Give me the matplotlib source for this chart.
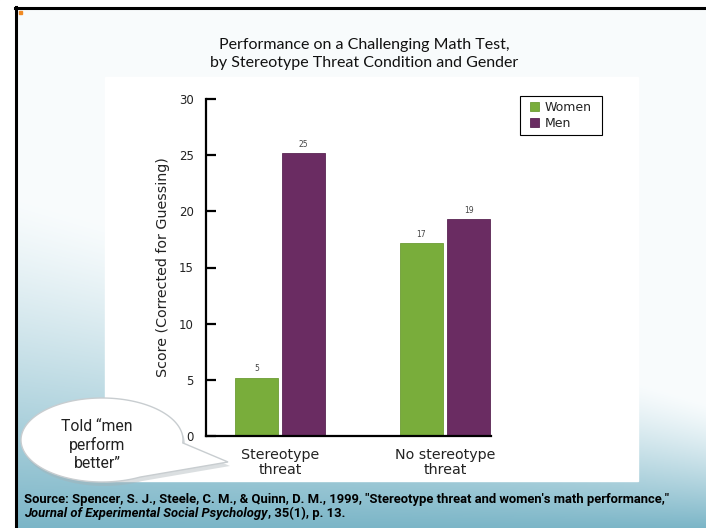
import numpy as np
import matplotlib
matplotlib.use('Agg')
import matplotlib.pyplot as plt
from matplotlib.patches import Rectangle, Polygon
from matplotlib.lines import Line2D

## Data
conditions = ['Stereotype\nthreat', 'No stereotype\nthreat']
women = [5.2, 17.2]
men = [25.2, 19.3]
series_names = ['Women', 'Men']
y_ticks = [0, 5, 10, 15, 20, 25, 30]

title = 'Performance on a Challenging Math Test,\nby Stereotype Threat Condition and Gender'
y_label = 'Score (Corrected for Guessing)'
bubble_text = 'Told \u201cmen\nperform\nbetter\u201d'
source_1 = 'Source: Spencer, S. J., Steele, C. M., & Quinn, D. M., 1999, "Stereotype threat and women\'s math performance,"'
source_2a = 'Journal of Experimental Social Psychology'
source_2b = ', 35(1), p. 13.'

green = '#79ad3b'
purple = '#6a2c62'

W, H = 706, 528
fig = plt.figure(figsize=(W / 100, H / 100), dpi=100)

# background layer in pixel coordinates
bg = fig.add_axes([0, 0, 1, 1], zorder=0)
bg.set_xlim(0, W)
bg.set_ylim(H, 0)
bg.axis('off')

# slide gradient
yy, xx = np.mgrid[0:H, 0:W]
y0 = 190 + 0.3 * xx
t = np.clip((yy - y0) / (H - y0), 0, 1) ** 1.3
top_c = np.array([0.975, 0.988, 0.992])
bot_c = np.array([0.48, 0.71, 0.78])
img = top_c[None, None, :] * (1 - t[..., None]) + bot_c[None, None, :] * t[..., None]
bg.imshow(img, extent=(0, W, H, 0), aspect='auto', zorder=0)

# outside the slide, border
bg.add_patch(Rectangle((0, 0), 15, H, color='white', zorder=1))
bg.add_patch(Rectangle((0, 0), W, 7, color='white', zorder=1))
bg.add_line(Line2D([16, 16], [7, H], color='black', lw=2.2, zorder=2))
bg.add_line(Line2D([15, W], [8, 8], color='black', lw=2.2, zorder=2))
bg.add_patch(Rectangle((19, 11), 3, 2.5, color='#f08a24', zorder=2))

# white chart panel
bg.add_patch(Rectangle((105, 77), 533, 404, color='white', zorder=1))

# title
bg.text(364, 54, title, ha='center', va='center', fontsize=11.5, family='Lato',
        linespacing=1.4, color='#111111', zorder=3)

# speech bubble
cx, cy, a, b = 102, 440, 81, 42
ang = np.linspace(np.deg2rad(62), np.deg2rad(360 + 4), 220)
pts = [(cx + a * np.cos(q), cy + b * np.sin(q)) for q in ang]
pts.append((228, 462))
shadow = Polygon([(px + 2, py + 4) for px, py in pts], closed=True,
                 facecolor='#a7b0b4', edgecolor='none', alpha=0.4, zorder=3)
bg.add_patch(shadow)
bubble = Polygon(pts, closed=True, facecolor='white', edgecolor='#c8cdd0',
                 lw=1.0, zorder=4)
bg.add_patch(bubble)
bg.text(97, 445, bubble_text, ha='center', va='center', fontsize=11.3,
        family='Roboto', linespacing=1.25, color='#222222', zorder=5)

# source
src_kw = dict(ha='left', va='center', fontsize=9.4, family='Roboto', weight='bold',
              color='black', zorder=3)
bg.text(24, 500, source_1, **src_kw)
j = bg.text(24, 513, source_2a, style='italic', **src_kw)
fig.canvas.draw()
x_end = j.get_window_extent().x1  # pixels == data units here
bg.text(x_end, 513, source_2b, **src_kw)

## Chart
ax_l, ax_r, ax_t, ax_b = 206, 491, 99, 436
ax = fig.add_axes([ax_l / W, (H - ax_b) / H, (ax_r - ax_l) / W, (ax_b - ax_t) / H], zorder=2)
ax.patch.set_alpha(0)

x = np.arange(len(conditions))
bw = 0.26
off = 0.143
b1 = ax.bar(x - off, women, bw, color=green, edgecolor='#6d9c35', lw=0.6, label=series_names[0])
b2 = ax.bar(x + off, men, bw, color=purple, edgecolor='#5a2553', lw=0.6, label=series_names[1])
ax.bar_label(b1, fmt='%.0f', padding=3, fontsize=5.5, color='#444444', family='DejaVu Sans')
ax.bar_label(b2, fmt='%.0f', padding=3, fontsize=5.5, color='#444444', family='DejaVu Sans')

ax.set_xlim(-0.448, 1.279)
ax.set_ylim(0, 30)
ax.set_yticks(y_ticks)
ax.set_xticks(x)
ax.set_xticklabels(conditions, fontsize=10.3, family='DejaVu Sans', color='#222222', linespacing=1.0)
ax.tick_params(axis='x', length=0, pad=9)
ax.tick_params(axis='y', direction='in', length=7, width=1.6, pad=9, labelsize=8.5, labelcolor='#222222')
for s in ['top', 'right']:
    ax.spines[s].set_visible(False)
ax.spines['left'].set_linewidth(1.6)
ax.spines['bottom'].set_linewidth(1.6)
ax.set_ylabel(y_label, fontsize=10.3, family='DejaVu Sans', color='#222222', labelpad=6)

# legend: frame drawn in pixels, entries from the bars
bg.add_patch(Rectangle((520, 96), 82, 39, facecolor='white', edgecolor='black', lw=0.8, zorder=3))
leg = ax.legend(loc='center', bbox_to_anchor=(561 / W, (H - 115.5) / H), bbox_transform=fig.transFigure,
                fontsize=9, frameon=False, handlelength=0.75, handleheight=0.75,
                handletextpad=0.45, labelspacing=0.2, borderpad=0, borderaxespad=0)
for txt in leg.get_texts():
    txt.set_color('#222222')

fig.savefig('out.png', dpi=100)
